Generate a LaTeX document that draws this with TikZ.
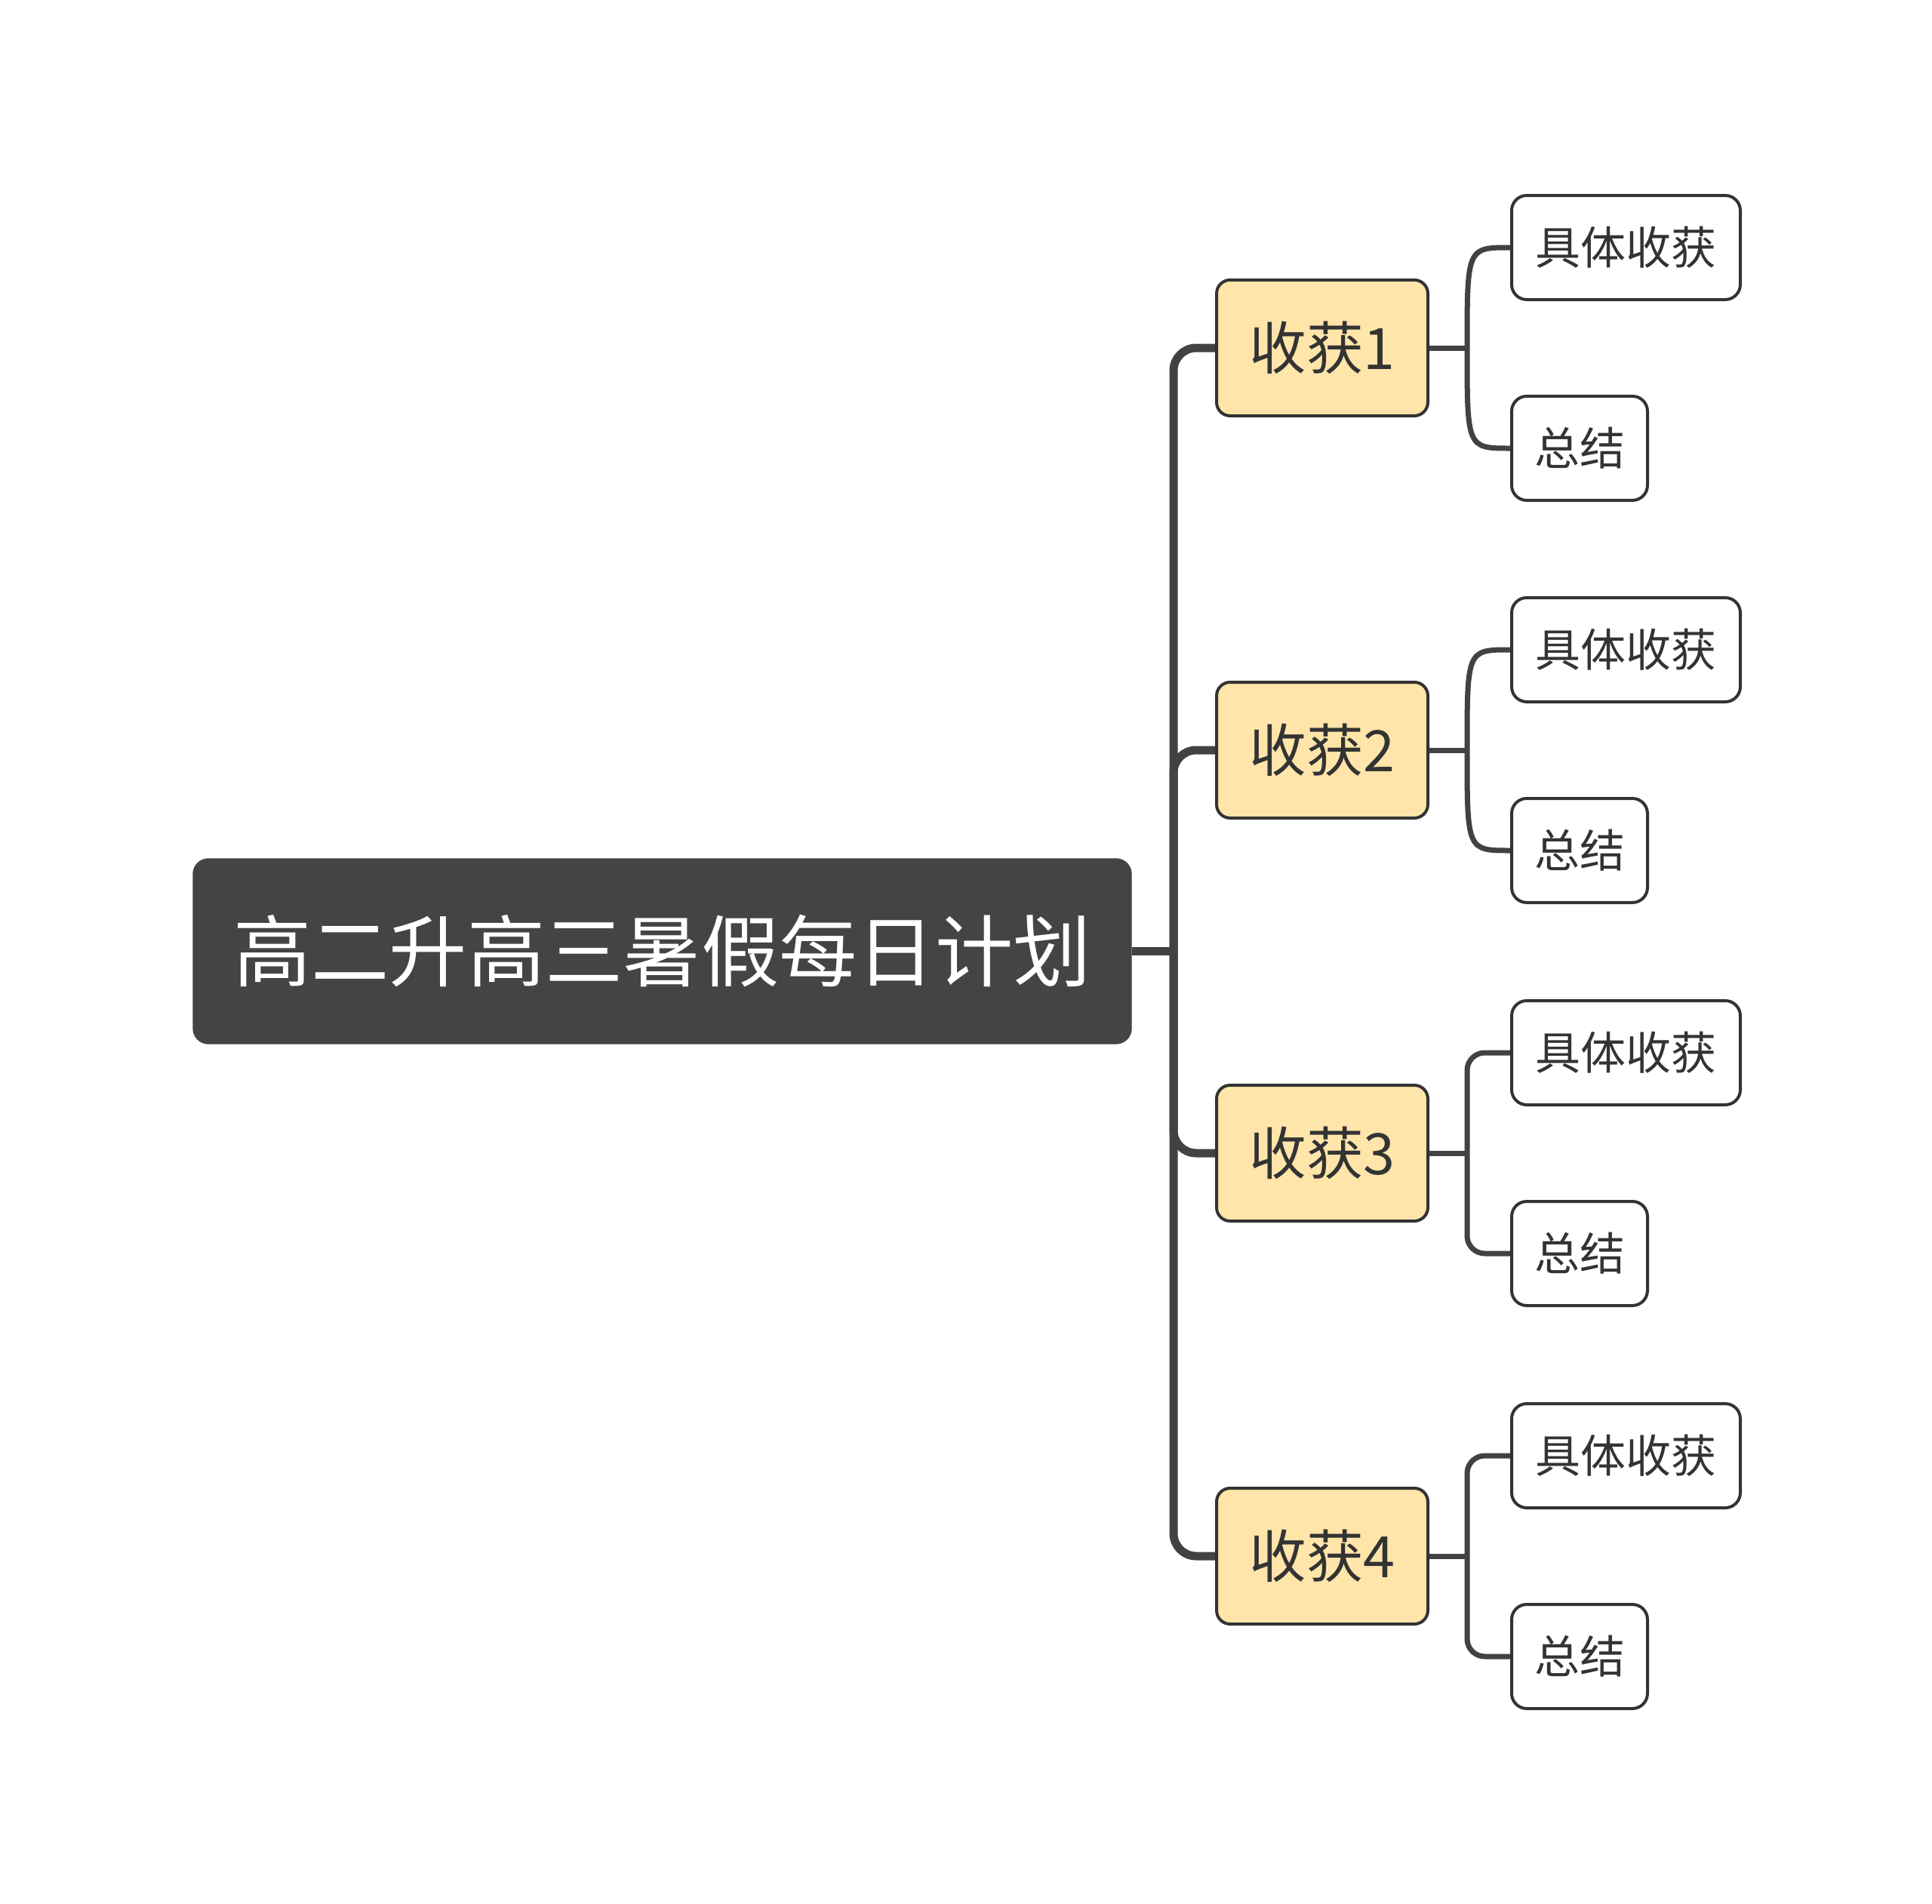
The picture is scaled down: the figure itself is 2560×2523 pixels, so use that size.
\documentclass[tikz,border=0pt]{standalone}
\usepackage{fontspec}
\setmainfont{Noto Sans CJK SC}
\usepackage{tikz}

\definecolor{linegray}{HTML}{424242}
\definecolor{rootgray}{HTML}{444444}
\definecolor{harvestfill}{HTML}{FFE5AA}
\definecolor{textgray}{HTML}{333333}

\tikzset{
    rootbox/.style={fill=rootgray, draw=rootgray, rounded corners=6pt, text=white, inner sep=0pt,
        minimum width=372.9pt, minimum height=73.5pt, font=\fontsize{31}{31}\selectfont},
    harvestbox/.style={fill=harvestfill, draw=textgray, line width=1.2pt, rounded corners=5.4pt,
        text=textgray, inner sep=0pt, minimum width=84pt, minimum height=54pt,
        font=\fontsize{22.7}{22.7}\selectfont},
    leafbox/.style={fill=white, draw=textgray, line width=1.2pt, rounded corners=6pt,
        text=textgray, inner sep=0pt, minimum height=41.4pt, font=\fontsize{18}{18}\selectfont},
    trunk/.style={draw=linegray, line width=3.3pt, rounded corners=9pt},
    twig/.style={draw=linegray, line width=2.1pt},
}

\begin{document}
\begin{tikzpicture}[x=0.3pt, y=-0.3pt]
    \useasboundingbox (0,0) rectangle (2560,2523);
    \node[rootbox] (root) at (877.5,1260.5) {高二升高三暑假每日计划};
    \coordinate (hub) at (1555,1260.5);
    \draw[trunk] (root.east) -- (hub);
    \foreach \n/\y in {1/461,2/994,3/1528,4/2062}
    {
        \node[harvestbox, anchor=west] (h\n) at (1610,\y) {收获\n};
        \node[leafbox, anchor=west, minimum width=90.9pt] (d\n) at (2001,\y-133) {具体收获};
        \node[leafbox, anchor=west, minimum width=54pt] (s\n) at (2001,\y+133) {总结};
        \coordinate (j\n) at (1944,\y);
        \draw[trunk] (hub) |- (h\n.west);
        \draw[twig] (h\n.east) -- (j\n);
    }
    \foreach \n in {1,2}
    {
        \draw[twig] (j\n) .. controls (j\n |- d\n.west) .. (d\n.west);
        \draw[twig] (j\n) .. controls (j\n |- s\n.west) .. (s\n.west);
    }
    \foreach \n in {3,4}
    {
        \draw[twig, rounded corners=7pt] (j\n) |- (d\n.west);
        \draw[twig, rounded corners=7pt] (j\n) |- (s\n.west);
    }
\end{tikzpicture}
\end{document}
